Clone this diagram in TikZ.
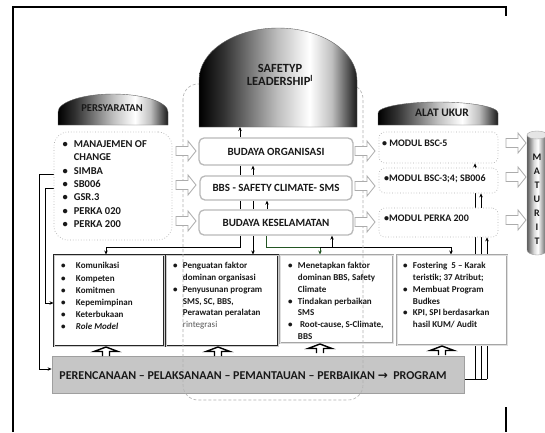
\documentclass[tikz,border=0pt]{standalone}
\usepackage{fontspec}
\setmainfont{Carlito}
\newfontfamily\djv{DejaVu Sans}
\usetikzlibrary{arrows.meta}
\pgfdeclarelayer{back}
\pgfdeclarelayer{bg}
\pgfsetlayers{back,bg,main}
\pgfdeclarehorizontalshading{domeshade}{100bp}{color(0bp)=(black); color(25bp)=(black); color(33bp)=(black!80); color(50bp)=(black!25); color(60bp)=(white); color(67bp)=(black!25); color(75bp)=(black!90); color(100bp)=(black!90)}
\pgfdeclarehorizontalshading{cylshade}{100bp}{color(0bp)=(black!65); color(25bp)=(black!65); color(42bp)=(black!15); color(52bp)=(white); color(75bp)=(black!70); color(100bp)=(black!70)}
\definecolor{dkgreen}{RGB}{35,85,35}
\begin{document}
\begin{tikzpicture}[x=1pt,y=-1pt,
  midbox/.style={draw=gray!55, line width=1.3pt, fill=white, rounded corners=5pt, font=\bfseries\fontsize{11}{13}\selectfont, text=black!90},
  dotbox/.style={draw=gray!60, dotted, line width=0.7pt, fill=white, rounded corners=6pt},
  blkbox/.style={draw=black!85, double=gray!40, double distance=0.7pt, line width=0.9pt, fill=white},
  grybox/.style={draw=gray!70, double=gray!25, double distance=0.7pt, line width=0.9pt, fill=white},
  btext/.style={anchor=north west, inner sep=0pt, font=\bfseries\fontsize{9}{11.8}\selectfont, text=black!90},
  rtext/.style={anchor=west, inner sep=0pt, font=\bfseries\fontsize{10}{12}\selectfont, text=black!90},
  domelabel/.style={font=\bfseries\fontsize{10.5}{13}\selectfont, text=black!90},
  conn/.style={line width=0.7pt, -{Stealth[length=4pt,width=3.5pt]}},
  plain/.style={line width=0.7pt},
  hollowarrow/.pic={\draw[gray!65, fill=white, line width=0.8pt, line join=miter] (0,-4.5) -- (12,-4.5) -- (12,-10) -- (20,0) -- (12,10) -- (12,4.5) -- (0,4.5) -- cycle;},
  uparrow/.pic={\draw[black, fill=white, line width=1.4pt, line join=miter] (-3.5,10) -- (-3.5,5.5) -- (-12,5.5) -- (0,1) -- (12,5.5) -- (3.5,5.5) -- (3.5,10);}
]
\begin{pgfonlayer}{back}
\fill[white] (0,0) rectangle (545,432);
\end{pgfonlayer}
\useasboundingbox (0,0) rectangle (545,432);

% frame
\draw[line width=1.1pt] (13,432) -- (13,7) -- (506,7) -- (506,16);
\draw[line width=1.1pt] (506,407) -- (506,432);

% boxes
\node[dotbox, rounded corners=14pt, minimum width=118pt, minimum height=108pt] (req) at (113,186) {};
\node[midbox, minimum width=154pt, minimum height=27pt] (m1) at (276,151.5) {BUDAYA ORGANISASI};
\node[midbox, minimum width=152pt, minimum height=24pt] (m2) at (276,188) {BBS - SAFETY CLIMATE- SMS};
\node[midbox, minimum width=154pt, minimum height=25pt] (m3) at (276,222.5) {BUDAYA KESELAMATAN};
\node[dotbox, minimum width=119pt, minimum height=31pt] (r1) at (438.5,147.5) {};
\node[dotbox, minimum width=119pt, minimum height=25pt] (r2) at (438.5,180.5) {};
\node[dotbox, minimum width=119pt, minimum height=29pt] (r3) at (438.5,222.5) {};
\node[blkbox, minimum width=110pt, minimum height=91pt] (ba) at (109,300.5) {};
\node[blkbox, minimum width=112pt, minimum height=91pt] (bb) at (222,300.5) {};
\node[grybox, minimum width=113pt, minimum height=88pt] (bc) at (336.5,299) {};
\node[grybox, minimum width=110pt, minimum height=90pt] (bd) at (452,300) {};
\node[draw=gray!75, fill=gray!45, line width=0.8pt, minimum width=412pt, minimum height=37pt] (bar) at (258,374.5) {};

% dashed enclosure
\draw[gray!60, line width=0.6pt, dash pattern=on 3pt off 2pt, rounded corners=15pt] (183,84) rectangle (363,400);

% domes
\shadedraw[shading=domeshade, draw=black!60, line width=0.4pt] (58,125) -- (58,112) .. controls (58,102.06) and (82.6,94) .. (113,94) .. controls (143.4,94) and (168,102.06) .. (168,112) -- (168,125) -- cycle;
\shadedraw[shading=domeshade, draw=black!60, line width=0.4pt] (199,127) -- (199,80) .. controls (199,51.3) and (234.4,28) .. (278,28) .. controls (321.6,28) and (357,51.3) .. (357,80) -- (357,127) -- cycle;
\shadedraw[shading=domeshade, draw=black!60, line width=0.4pt] (378,125) -- (378,113) .. controls (378,106.9) and (404.9,102) .. (438,102) .. controls (471.1,102) and (498,106.9) .. (498,113) -- (498,125) -- cycle;
\node[domelabel] (d1) at (112,108) {PERSYARATAN};
\node[domelabel, align=center, font=\bfseries\fontsize{12.5}{13.5}\selectfont] (d2) at (280,75) {SAFETYP\\LEADERSHIP\textsuperscript{l}};
\node[domelabel, font=\bfseries\fontsize{11.5}{13}\selectfont] (d3) at (442,113) {ALAT UKUR};
\coordinate (d2b) at (278,127);

% cylinder
\shadedraw[shading=cylshade, draw=gray!70, line width=0.4pt] (527,135) -- (527,250) .. controls (527,253) and (532,255) .. (537,255) .. controls (542,255) and (547,253) .. (547,250) -- (547,135) -- cycle;
\filldraw[fill=gray!20, draw=gray!70, line width=0.4pt] (537,135) ellipse [x radius=10pt, y radius=4pt];
\node[font=\bfseries\fontsize{10}{14}\selectfont, align=center, inner sep=0pt, text=black!90] (mat) at (537,199) {M\\A\\T\\U\\R\\I\\T};

% hollow arrows
\pic at (176,151) {hollowarrow};
\pic at (176,185) {hollowarrow};
\pic at (176,221) {hollowarrow};
\pic at (355,151) {hollowarrow};
\pic at (355,186) {hollowarrow};
\pic at (355,222) {hollowarrow};
\pic at (506,143) {hollowarrow};
\pic at (506,177) {hollowarrow};
\pic at (506,220) {hollowarrow};

% up block arrows from bar
\pic at (106,346) {uparrow};
\pic at (218,346) {uparrow};
\pic at (320,343) {uparrow};
\pic at (442,345) {uparrow};

% texts
\node[anchor=north west, inner sep=0pt, font=\bfseries\fontsize{10.5}{13.3}\selectfont, text=black!90] (reqt) at (62.4,138.1) {\begin{tabular}{@{}l@{\hspace{6pt}}l@{}}\textbullet&MANAJEMEN OF\\&CHANGE\\\textbullet&SIMBA\\\textbullet&SB006\\\textbullet&GSR.3\\\textbullet&PERKA 020\\\textbullet&PERKA 200\end{tabular}};
\node[rtext] (r1t) at (382,143) {\textbullet\ MODUL BSC-5};
\node[rtext] (r2t) at (384,179) {\textbullet MODUL BSC-3;4; SB006};
\node[rtext] (r3t) at (384,218) {\textbullet MODUL PERKA 200};
\node[btext] (bat) at (60.8,260.2) {\renewcommand{\arraystretch}{1.034}\begin{tabular}{@{}l@{\hspace{10.5pt}}l@{}}\textbullet&Komunikasi\\\textbullet&Kompeten\\\textbullet&Komitmen\\\textbullet&Kepemimpinan\\\textbullet&Keterbukaan\\\textbullet&\textit{Role Model}\end{tabular}};
\node[btext] (bbt) at (172.8,260.2) {\begin{tabular}{@{}l@{\hspace{5.5pt}}l@{}}\textbullet&Penguatan faktor\\&dominan organisasi\\\textbullet&Penyusunan program\\&SMS, SC, BBS,\\&Perawatan peralatan\\&{\mdseries\color{black!65}rintegrasi}\end{tabular}};
\node[btext] (bct) at (287.8,260.2) {\begin{tabular}{@{}l@{\hspace{5.5pt}}l@{}}\textbullet&Menetapkan faktor\\&dominan BBS, Safety\\&Climate\\\textbullet&Tindakan perbaikan\\&SMS\\\textbullet&\ Root-cause, S-Climate,\\&BBS\end{tabular}};
\node[btext] (bdt) at (402.8,260.2) {\begin{tabular}{@{}l@{\hspace{5.5pt}}l@{}}\textbullet&Fostering\ \ 5 -- Karak\\&teristik; 37 Atribut;\\\textbullet&Membuat Program\\&Budkes\\\textbullet&KPI, SPI berdasarkan\\&hasil KUM/ Audit\end{tabular}};
\node[font=\bfseries\fontsize{12}{14}\selectfont, text=black!90] (bart) at (253,376) {PERENCANAAN -- PELAKSANAAN -- PEMANTAUAN -- PERBAIKAN {\djv\bfseries →}\ \ PROGRAM};

% connectors
\begin{pgfonlayer}{bg}
\draw[conn] (m1.north -| 240,0) -- (d2b -| 240,0);
\draw[plain] (m1.south -| 240,0) -- (m2.north -| 240,0);
\draw[conn] (m2.north -| 253,0) -- (m1.south -| 253,0);
\draw[plain] (m2.south -| 240,0) -- (m3.north -| 240,0);
\draw[plain] (m2.south -| 253,0) -- (m3.north -| 253,0);
\draw[conn] (m3.north -| 267,0) -- (m2.south -| 267,0);
\draw[conn] (m3.south -| 240,0) |- (106,247) -- (ba.north -| 106,0);
\draw[conn] (m3.south -| 253,0) -- (bb.north -| 253,0);
\draw[conn, dkgreen] (m3.south -| 266,0) |- (320,247) -- (bc.north -| 320,0);
\draw[conn] (320,247) -- (451,247) -- (bd.north -| 451,0);
\draw[conn] (332,247) -- (m3.south -| 332,0);
\draw[conn] (req.west |- 0,174) -| (39,369) -- (bar.west |- 0,369);
\draw[conn] (req.west |- 0,188) -| (45,303) -- (ba.west |- 0,303);
\draw[plain] (bar.east |- 0,379) -- (487,379);
\draw[conn] (475,379) -- (r1.south -| 475,0);
\draw[conn] (481,379) -- (r2.south -| 481,0);
\draw[conn] (487,379) -- (r3.south -| 487,0);
\end{pgfonlayer}
\end{tikzpicture}
\end{document}
